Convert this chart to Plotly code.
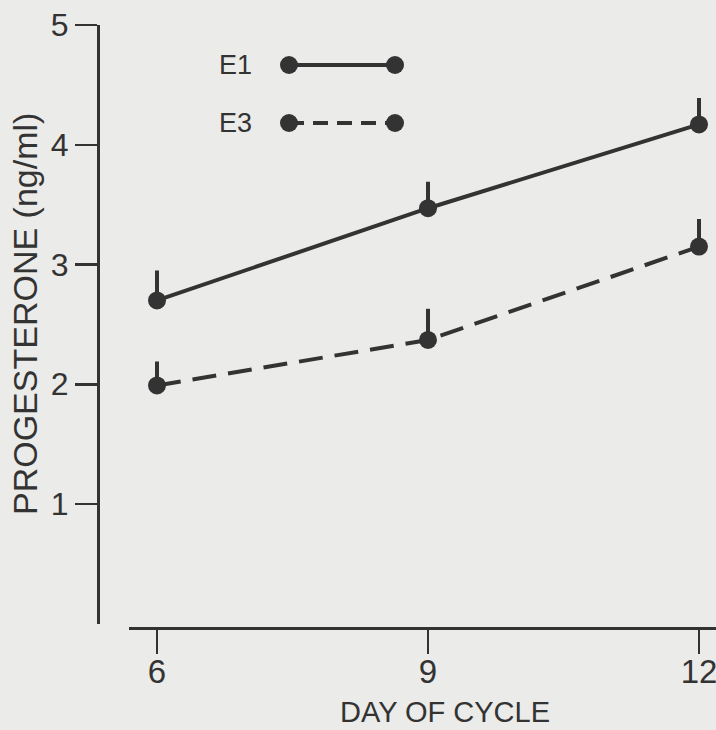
import plotly.graph_objects as go

# ---- data ----
days = [6, 9, 12]
e1_mean = [2.70, 3.47, 4.17]
e1_err = [0.25, 0.22, 0.22]
e3_mean = [1.99, 2.37, 3.15]
e3_err = [0.20, 0.26, 0.23]
y_ticks = [1, 2, 3, 4, 5]
x_ticks = [6, 9, 12]
series_names = ["E1", "E3"]

W, H = 716, 730
INK = "#333333"
BG = "#ebebe9"
FONT = "Liberation Sans, Arial, sans-serif"

def px_x(p):
    return p / W

def px_y(p):
    return (H - p) / H

# axis geometry (pixels)
x_left_px, x_right_px = 129, 716
x6_px, x12_px = 157, 699
ppu = (x12_px - x6_px) / 6.0
x_range = [6 - (x6_px - x_left_px) / ppu, 12 + (x_right_px - x12_px) / ppu]

fig = go.Figure()

fig.add_trace(go.Scatter(
    x=days, y=e1_mean, mode="lines+markers", name=series_names[0],
    line=dict(color=INK, width=4),
    marker=dict(color=INK, size=18),
    error_y=dict(type="data", symmetric=False, array=e1_err,
                 arrayminus=[0] * len(e1_err), thickness=4, width=0, color=INK),
    showlegend=False, hoverinfo="skip",
))
fig.add_trace(go.Scatter(
    x=days, y=e3_mean, mode="lines+markers", name=series_names[1],
    line=dict(color=INK, width=4, dash="24px,12px"),
    marker=dict(color=INK, size=18),
    error_y=dict(type="data", symmetric=False, array=e3_err,
                 arrayminus=[0] * len(e3_err), thickness=4, width=0, color=INK),
    showlegend=False, hoverinfo="skip",
))

# ---- custom legend (drawn as layout decoration) ----
shapes = []
annotations = []
legend_rows = [(series_names[0], 65, "solid"), (series_names[1], 123, "15px,9px")]
r = 9
for name, ypx, dash in legend_rows:
    x0, x1 = 289, 395
    shapes.append(dict(type="line", xref="paper", yref="paper",
                       x0=px_x(x0), x1=px_x(x1), y0=px_y(ypx), y1=px_y(ypx),
                       line=dict(color=INK, width=4, dash=dash)))
    for cx in (x0, x1):
        shapes.append(dict(type="circle", xref="paper", yref="paper",
                           x0=px_x(cx - r), x1=px_x(cx + r),
                           y0=px_y(ypx + r), y1=px_y(ypx - r),
                           fillcolor=INK, line=dict(color=INK, width=0)))
    annotations.append(dict(text=name, xref="paper", yref="paper",
                            x=px_x(254), y=px_y(ypx), xanchor="right", yanchor="middle",
                            showarrow=False, font=dict(size=27, color=INK, family=FONT)))

# axis titles
annotations.append(dict(text="DAY OF CYCLE", xref="paper", yref="paper",
                        x=px_x(445), y=px_y(712), xanchor="center", yanchor="middle",
                        showarrow=False, font=dict(size=29, color=INK, family=FONT)))
annotations.append(dict(text="PROGESTERONE (ng/ml)", xref="paper", yref="paper",
                        x=px_x(25), y=px_y(314), xanchor="center", yanchor="middle",
                        textangle=-90, showarrow=False,
                        font=dict(size=34, color=INK, family=FONT)))

fig.update_layout(
    width=W, height=H,
    margin=dict(l=0, r=0, t=0, b=0, pad=0),
    paper_bgcolor=BG, plot_bgcolor=BG,
    font=dict(family=FONT, color=INK),
    shapes=shapes, annotations=annotations,
    hovermode=False,
    xaxis=dict(
        domain=[px_x(x_left_px), 1.0], range=x_range,
        anchor="free", position=px_y(628),
        showline=True, linewidth=2.5, linecolor=INK,
        ticks="outside", ticklen=24, tickwidth=2.5, tickcolor=INK,
        tickvals=x_ticks, ticktext=[str(v) for v in x_ticks],
        tickfont=dict(size=33, color=INK, family=FONT),
        ticklabelstandoff=-10, ticklabeloverflow="allow",
        showgrid=False, zeroline=False, automargin=False,
    ),
    yaxis=dict(
        domain=[px_y(623.75), px_y(25)], range=[0, 5],
        anchor="free", position=px_x(98),
        showline=True, linewidth=2.5, linecolor=INK,
        ticks="outside", ticklen=22, tickwidth=2.5, tickcolor=INK,
        tickvals=y_ticks, ticktext=[str(v) for v in y_ticks],
        tickfont=dict(size=32, color=INK, family=FONT),
        ticklabelstandoff=0, ticklabeloverflow="allow",
        showgrid=False, zeroline=False, automargin=False,
    ),
)

fig.write_html(
    "out.html",
    config={"displayModeBar": False, "staticPlot": True},
    post_script=(
        "document.documentElement.style.margin='0';"
        "document.body.style.margin='0';"
        "document.body.style.overflow='hidden';"
        "document.body.style.background='" + BG + "';"
    ),
)
